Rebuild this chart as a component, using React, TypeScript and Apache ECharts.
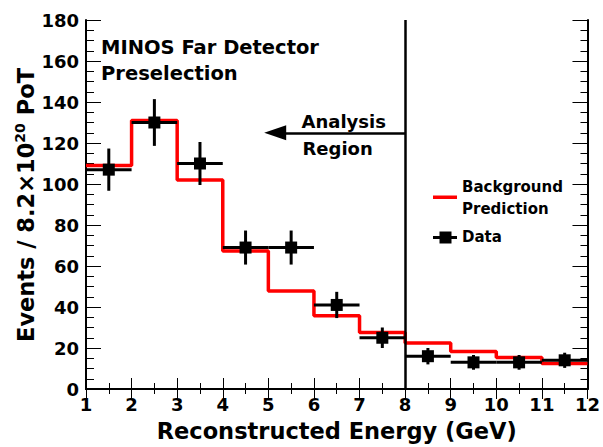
import React, { useEffect, useRef } from "react";
import * as echarts from "echarts";

// ---- data ----
const binEdges = [1, 2, 3, 4, 5, 6, 7, 8, 9, 10, 11, 12];
const dataCounts = [107, 130, 110, 69, 69, 41, 25, 16, 13, 13, 14];
const dataErrors = [10.3, 11.4, 10.5, 8.3, 8.3, 6.4, 5.0, 4.0, 3.6, 3.6, 3.7];
const backgroundPrediction = [109, 131, 102, 67.3, 47.8, 35.7, 27.6, 22.4, 18.3, 15.4, 12.5];
const analysisCut = 8;
const arrowY = 125;
const arrowTipX = 5.15;

const FONT = '"DejaVu Sans", "Liberation Sans", Arial, sans-serif';

export default function App() {
  const ref = useRef<HTMLDivElement>(null);

  useEffect(() => {
    if (!ref.current) return;
    const chart = echarts.init(ref.current, undefined, { renderer: "svg" });

    const histPoints: number[][] = [];
    backgroundPrediction.forEach((v, i) => {
      histPoints.push([binEdges[i], v]);
      histPoints.push([binEdges[i + 1], v]);
    });

    const dataItems = dataCounts.map((v, i) => [binEdges[i], binEdges[i + 1], v, dataErrors[i]]);

    const axisLine = { show: true, lineStyle: { color: "#000", width: 2 } };
    const tickStyle = { color: "#000", width: 1 };

    const option: any = {
      animation: false,
      backgroundColor: "#fff",
      grid: { left: 86, right: 11, top: 20, bottom: 57, containLabel: false },
      xAxis: [
        {
          type: "value",
          position: "bottom",
          min: 1,
          max: 12,
          interval: 1,
          axisLine,
          axisTick: { show: true, inside: true, length: 11, lineStyle: tickStyle },
          minorTick: { show: true, splitNumber: 2, length: 6, lineStyle: tickStyle },
          splitLine: { show: false },
          axisLabel: { show: true, margin: 6, color: "#000", fontSize: 18, fontWeight: "bold", fontFamily: FONT },
          name: "Reconstructed Energy (GeV)",
          nameLocation: "middle",
          nameGap: 30,
          nameTextStyle: { color: "#000", fontSize: 22.5, fontWeight: "bold", fontFamily: FONT },
        },
        {
          type: "value",
          position: "top",
          min: 1,
          max: 12,
          interval: 1,
          axisLine,
          axisTick: { show: true, inside: true, length: 10, lineStyle: tickStyle },
          minorTick: { show: true, splitNumber: 2, length: 5, lineStyle: tickStyle },
          splitLine: { show: false },
          axisLabel: { show: false },
        },
      ],
      yAxis: [
        {
          type: "value",
          position: "left",
          min: 0,
          max: 180,
          interval: 20,
          axisLine,
          axisTick: { show: true, inside: true, length: 15, lineStyle: tickStyle },
          minorTick: { show: true, splitNumber: 4, length: 8, lineStyle: tickStyle },
          splitLine: { show: false },
          axisLabel: { show: true, margin: 7, color: "#000", fontSize: 18, fontWeight: "bold", fontFamily: FONT },
        },
        {
          type: "value",
          position: "right",
          min: 0,
          max: 180,
          interval: 20,
          axisLine,
          axisTick: { show: true, inside: true, length: 15, lineStyle: tickStyle },
          minorTick: { show: true, splitNumber: 4, length: 7, lineStyle: tickStyle },
          splitLine: { show: false },
          axisLabel: { show: false },
        },
      ],
      series: [
        {
          name: "Background Prediction",
          type: "line",
          xAxisIndex: 0,
          yAxisIndex: 0,
          data: histPoints,
          showSymbol: false,
          symbol: "none",
          lineStyle: { color: "#ff0000", width: 3.5 },
          silent: true,
          z: 2,
          markLine: {
            silent: true,
            animation: false,
            symbol: ["none", "none"],
            label: { show: false },
            emphasis: { disabled: true },
            data: [
              { xAxis: analysisCut, lineStyle: { color: "#000", width: 2.5, type: "solid" } },
              [
                { coord: [analysisCut, arrowY], symbol: "none", lineStyle: { color: "#000", width: 2.5, type: "solid" } },
                { coord: [arrowTipX, arrowY], symbol: "triangle", symbolSize: [15, 22] },
              ],
            ],
          },
        },
        {
          name: "Data",
          type: "custom",
          xAxisIndex: 0,
          yAxisIndex: 0,
          z: 3,
          silent: true,
          encode: { x: [0, 1], y: [2] },
          data: dataItems,
          renderItem: (params: any, api: any) => {
            const lo = api.value(0);
            const hi = api.value(1);
            const y = api.value(2);
            const e = api.value(3);
            const mid = (lo + hi) / 2;
            const l = api.coord([lo, y]);
            const r = api.coord([hi, y]);
            const c = api.coord([mid, y]);
            const t = api.coord([mid, y + e]);
            const b = api.coord([mid, y - e]);
            const s = 12;
            return {
              type: "group",
              children: [
                { type: "line", shape: { x1: l[0], y1: l[1], x2: r[0], y2: r[1] }, style: { stroke: "#000", lineWidth: 3 } },
                { type: "line", shape: { x1: t[0], y1: t[1], x2: b[0], y2: b[1] }, style: { stroke: "#000", lineWidth: 3 } },
                { type: "rect", shape: { x: c[0] - s / 2, y: c[1] - s / 2, width: s, height: s }, style: { fill: "#000" } },
              ],
            };
          },
        },
      ],
      graphic: [
        {
          type: "text",
          x: 25.5,
          y: 205,
          rotation: Math.PI / 2,
          silent: true,
          style: {
            text: "{m|Events / 8.2×10}{s|20}{m| PoT}",
            align: "center",
            verticalAlign: "middle",
            fill: "#000",
            rich: {
              m: { fontSize: 22.5, fontWeight: "bold", fontFamily: FONT, lineHeight: 26, fill: "#000" },
              s: { fontSize: 14, fontWeight: "bold", fontFamily: FONT, lineHeight: 14, verticalAlign: "top", fill: "#000" },
            },
          },
        },
        {
          type: "text",
          x: 101,
          y: 47.9,
          silent: true,
          style: { text: "MINOS Far Detector", fill: "#000", fontSize: 19.5, fontWeight: "bold", fontFamily: FONT, verticalAlign: "middle" },
        },
        {
          type: "text",
          x: 101,
          y: 73.9,
          silent: true,
          style: { text: "Preselection", fill: "#000", fontSize: 19.5, fontWeight: "bold", fontFamily: FONT, verticalAlign: "middle" },
        },
        {
          type: "text",
          x: 301.5,
          y: 121.2,
          silent: true,
          style: { text: "Analysis", fill: "#000", fontSize: 18, fontWeight: "bold", fontFamily: FONT, verticalAlign: "middle" },
        },
        {
          type: "text",
          x: 302.5,
          y: 148.2,
          silent: true,
          style: { text: "Region", fill: "#000", fontSize: 18, fontWeight: "bold", fontFamily: FONT, verticalAlign: "middle" },
        },
        // legend
        { type: "rect", silent: true, shape: { x: 433, y: 195.5, width: 24, height: 3.5 }, style: { fill: "#ff0000" } },
        {
          type: "text",
          x: 462,
          y: 186.9,
          silent: true,
          style: { text: "Background", fill: "#000", fontSize: 15, fontWeight: "bold", fontFamily: FONT, verticalAlign: "middle" },
        },
        {
          type: "text",
          x: 462,
          y: 208.9,
          silent: true,
          style: { text: "Prediction", fill: "#000", fontSize: 15, fontWeight: "bold", fontFamily: FONT, verticalAlign: "middle" },
        },
        { type: "line", silent: true, shape: { x1: 433, y1: 237.5, x2: 457, y2: 237.5 }, style: { stroke: "#000", lineWidth: 3 } },
        { type: "rect", silent: true, shape: { x: 439.5, y: 231.5, width: 12, height: 12 }, style: { fill: "#000" } },
        {
          type: "text",
          x: 462,
          y: 237.2,
          silent: true,
          style: { text: "Data", fill: "#000", fontSize: 15, fontWeight: "bold", fontFamily: FONT, verticalAlign: "middle" },
        },
      ],
    };

    chart.setOption(option);
    return () => chart.dispose();
  }, []);

  return <div ref={ref} style={{ width: 603, height: 447, position: "absolute", left: 0, top: 0 }} />;
}
